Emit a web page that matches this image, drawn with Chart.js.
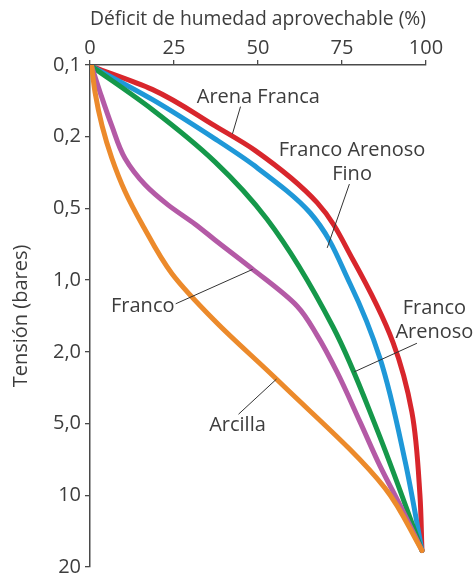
<!DOCTYPE html>
<html>
<head>
<meta charset="utf-8">
<script src="https://cdn.jsdelivr.net/npm/chart.js@4.4.1/dist/chart.umd.min.js"></script>
<style>
  html, body { margin: 0; padding: 0; background: #ffffff; }
  #wrap { width: 474px; height: 583px; position: relative; }
</style>
</head>
<body>
<div id="wrap"><canvas id="chart"></canvas></div>
<script>
// Tension axis: labelled steps, evenly spaced (step 0 = 0,1 bar ... step 7 = 20 bar)
const tensionLabels = ['0,1', '0,2', '0,5', '1,0', '2,0', '5,0', '10', '20'];
const deficitTicks = [0, 25, 50, 75, 100];

// Each curve: available-water deficit (%) and tension, as a step on the axis above
const arcillaX = [0.5, 1.5, 3.6, 6.5, 10.4, 15.5, 24.4, 37.2, 55.7, 87.8, 98.8];
const arcillaY = [0.02, 0.38, 0.85, 1.30, 1.76, 2.22, 2.91, 3.57, 4.39, 5.90, 6.77];

const francoX = [0.5, 3.0, 6.5, 10.4, 16.4, 23.2, 31.3, 37.2, 48.2, 61.6, 67.6, 73.5, 80.4, 86.3, 92.3, 98.8];
const francoY = [0.02, 0.38, 0.85, 1.30, 1.67, 1.95, 2.22, 2.44, 2.84, 3.36, 3.77, 4.28, 4.98, 5.59, 6.14, 6.77];

const francoArenosoX = [0.5, 18.5, 37.2, 52.7, 72.3, 85.4, 98.8];
const francoArenosoY = [0.02, 0.62, 1.35, 2.15, 3.65, 5.08, 6.77];

const francoArenosoFinoX = [0.5, 18.5, 37.2, 49.1, 65.5, 77.4, 86.3, 93.8, 98.8];
const francoArenosoFinoY = [0.02, 0.48, 1.03, 1.41, 2.06, 3.05, 4.09, 5.53, 6.77];

const arenaFrancaX = [0.5, 18.5, 37.2, 49.1, 67.6, 78.3, 90.2, 95.8, 98.2, 98.8];
const arenaFrancaY = [0.02, 0.34, 0.85, 1.19, 1.92, 2.72, 3.87, 4.84, 6.00, 6.77];

function toPoints(xs, ys) {
  return xs.map((x, i) => ({ x: x, y: ys[i] }));
}

// Curve names with leader lines, anchored in data coordinates
const curveLabels = [
  { lines: ['Arena Franca'], x: 50.1, y: 0.45, from: [44.8, 0.58], to: [42.4, 0.96] },
  { lines: ['Franco Arenoso', 'Fino'], x: 78.0, y: 1.19, from: [77.2, 1.66], to: [70.6, 2.55] },
  { lines: ['Franco'], x: 15.7, y: 3.36, from: [25.5, 3.33], to: [48.4, 2.85] },
  { lines: ['Franco', 'Arenoso'], x: 102.5, y: 3.39, from: [97.3, 3.88], to: [78.6, 4.28] },
  { lines: ['Arcilla'], x: 43.9, y: 5.03, from: [44.2, 4.87], to: [55.5, 4.38] }
];

const FONT = '"Open Sans", Lato, sans-serif';
const FSIZE = 20;
const TEXT = '#3d3d3d';
const AXIS = '#4a4a4a';

const labelPlugin = {
  id: 'curveLabels',
  afterDatasetsDraw(chart) {
    const { ctx, scales } = chart;
    const xs = scales.x, ys = scales.y;
    ctx.save();
    ctx.strokeStyle = '#333333';
    ctx.lineWidth = 1;
    ctx.fillStyle = TEXT;
    ctx.font = FSIZE + 'px ' + FONT;
    ctx.textAlign = 'center';
    ctx.textBaseline = 'middle';
    curveLabels.forEach(l => {
      ctx.beginPath();
      ctx.moveTo(xs.getPixelForValue(l.from[0]), ys.getPixelForValue(l.from[1]));
      ctx.lineTo(xs.getPixelForValue(l.to[0]), ys.getPixelForValue(l.to[1]));
      ctx.stroke();
      const cx = xs.getPixelForValue(l.x);
      const cy = ys.getPixelForValue(l.y);
      l.lines.forEach((t, i) => ctx.fillText(t, cx, cy + i * 24));
    });
    ctx.restore();
  }
};

const lineStyle = {
  borderWidth: 5,
  pointRadius: 0,
  fill: false,
  cubicInterpolationMode: 'monotone',
  borderCapStyle: 'round',
  borderJoinStyle: 'round'
};

new Chart(document.getElementById('chart'), {
  type: 'line',
  data: {
    datasets: [
      Object.assign({ label: 'Arcilla', data: toPoints(arcillaX, arcillaY), borderColor: '#ec8a2b' }, lineStyle),
      Object.assign({ label: 'Franco', data: toPoints(francoX, francoY), borderColor: '#b45aa6' }, lineStyle),
      Object.assign({ label: 'Franco Arenoso', data: toPoints(francoArenosoX, francoArenosoY), borderColor: '#15984a' }, lineStyle),
      Object.assign({ label: 'Franco Arenoso Fino', data: toPoints(francoArenosoFinoX, francoArenosoFinoY), borderColor: '#1f98d8' }, lineStyle),
      Object.assign({ label: 'Arena Franca', data: toPoints(arenaFrancaX, arenaFrancaY), borderColor: '#d8262c' }, lineStyle)
    ]
  },
  options: {
    indexAxis: 'y',
    responsive: true,
    maintainAspectRatio: false,
    animation: false,
    layout: { padding: { left: 0, right: 48, top: 0, bottom: 8 } },
    plugins: {
      legend: { display: false },
      tooltip: { enabled: false }
    },
    scales: {
      x: {
        type: 'linear',
        position: 'top',
        min: 0,
        max: 100,
        afterBuildTicks: s => { s.ticks = deficitTicks.map(v => ({ value: v })); },
        afterFit: s => { s.height = 65; },
        ticks: { color: TEXT, font: { family: FONT, size: FSIZE }, padding: 0, maxRotation: 0 },
        grid: { drawOnChartArea: false, drawTicks: true, tickLength: 5, color: AXIS, lineWidth: 1.3 },
        border: { color: AXIS, width: 1.5 },
        title: {
          display: true,
          text: 'Déficit de humedad aprovechable (%)',
          color: TEXT,
          font: { family: FONT, size: FSIZE },
          padding: { top: 7, bottom: 0 }
        }
      },
      y: {
        type: 'linear',
        position: 'left',
        reverse: true,
        min: 0,
        max: 7,
        afterBuildTicks: s => { s.ticks = tensionLabels.map((t, i) => ({ value: i })); },
        afterFit: s => { s.width = 90; },
        ticks: {
          color: TEXT,
          font: { family: FONT, size: FSIZE },
          padding: 4,
          callback: v => tensionLabels[v]
        },
        grid: { drawOnChartArea: false, drawTicks: true, tickLength: 5, color: AXIS, lineWidth: 1.3 },
        border: { color: AXIS, width: 1.5 },
        title: {
          display: true,
          text: 'Tensión (bares)',
          color: TEXT,
          font: { family: FONT, size: FSIZE },
          padding: { top: 9, bottom: 0 }
        }
      }
    }
  },
  plugins: [labelPlugin]
});
</script>
</body>
</html>
